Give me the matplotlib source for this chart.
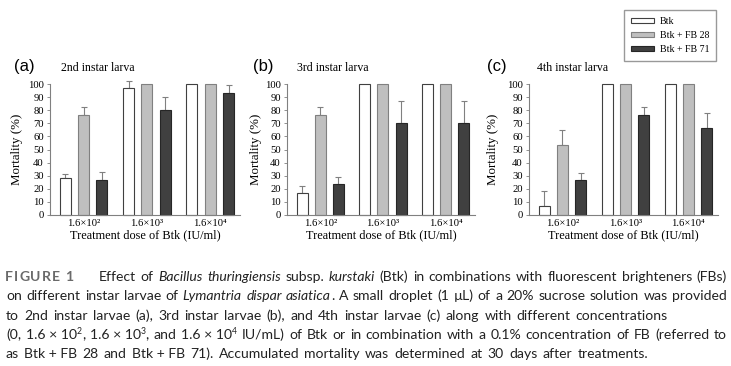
import matplotlib
matplotlib.use("Agg")
import matplotlib.pyplot as plt
import matplotlib.patches as mpatches
import numpy as np

# ---- data ----
doses = ["1.6×10²", "1.6×10³", "1.6×10⁴"]
series = ["Btk", "Btk + FB 28", "Btk + FB 71"]
panels = ["(a)", "(b)", "(c)"]
stages = ["2nd instar larva", "3rd instar larva", "4th instar larva"]

# mortality (%) per panel, rows = series, cols = dose
mort_a = [[28.3, 96.7, 100], [76.7, 100, 100], [26.7, 80.0, 93.3]]
err_a = [[3.0, 5.7, 0], [5.5, 0, 0], [5.8, 10.0, 5.7]]
mort_b = [[16.7, 100, 100], [76.7, 100, 100], [23.3, 70.0, 70.0]]
err_b = [[5.5, 0, 0], [5.5, 0, 0], [5.5, 17.3, 17.3]]
mort_c = [[6.7, 100, 100], [53.3, 100, 100], [26.7, 76.7, 66.7]]
err_c = [[11.5, 0, 0], [11.5, 0, 0], [5.5, 5.8, 11.5]]

W, H = 731, 366
fig = plt.figure(figsize=(W / 100, H / 100), dpi=100)
serif = ["Liberation Serif", "DejaVu Serif"]

face = ["white", "#bfbfbf", "#404040"]
edge = ["#404040", "#808080", "#262626"]

# axes boxes in pixels: left, right
boxes = [(50, 240), (287, 475), (529, 718)]
top_px, bot_px = 84, 215
ylab_x = [17, 256, 493]
plabel_x = [14, 253, 487]
stage_x = [61, 297, 537]

data = [(mort_a, err_a), (mort_b, err_b), (mort_c, err_c)]
x = np.arange(len(doses))
off = 0.29
bw = 0.175

for k, (mort, err) in enumerate(data):
    l, r = boxes[k]
    ax = fig.add_axes([l / W, 1 - bot_px / H, (r - l) / W, (bot_px - top_px) / H])
    for i in range(3):
        xs = x + (i - 1) * off
        ax.bar(xs, mort[i], width=bw, color=face[i], edgecolor=edge[i],
               linewidth=0.8, clip_on=False, zorder=2)
        e = np.array(err[i])
        m = e > 0
        ax.errorbar(xs[m], np.array(mort[i])[m], yerr=[np.zeros(m.sum()), e[m]],
                    fmt="none", ecolor="#808080", elinewidth=0.8, capsize=2.5,
                    capthick=0.8, clip_on=False, zorder=1)
    ax.set_xlim(-0.53, 2.47)
    ax.set_ylim(0, 100)
    ax.set_yticks(range(0, 101, 10))
    ax.set_xticks(x)
    ax.set_xticklabels(doses, family=serif, fontsize=7.7)
    for t in ax.get_yticklabels():
        t.set_family(serif)
        t.set_fontsize(7.7)
    ax.tick_params(axis="y", length=2.5, width=0.6, color="#808080", pad=2)
    ax.tick_params(axis="x", length=0, pad=3)
    for s in ["top", "right"]:
        ax.spines[s].set_visible(False)
    for s in ["left", "bottom"]:
        ax.spines[s].set_color("#808080")
        ax.spines[s].set_linewidth(0.8)
    ax.set_xlabel("Treatment dose of Btk (IU/ml)", family=serif, fontsize=8.8, labelpad=1)
    fig.text(ylab_x[k] / W, 1 - (top_px + bot_px) / 2 / H, "Mortality (%)",
             rotation=90, ha="center", va="center", family=serif, fontsize=9.3)
    fig.text(plabel_x[k] / W, 1 - 67 / H, panels[k], family="Liberation Sans",
             fontsize=12, va="center", ha="left")
    fig.text(stage_x[k] / W, 1 - 68 / H, stages[k], family=serif, fontsize=8.6,
             va="center", ha="left")

handles = [mpatches.Patch(facecolor=face[i], edgecolor=edge[i], linewidth=0.8)
           for i in range(3)]
fig.legend(handles, series, loc="upper left", bbox_to_anchor=(624 / W, 1 - 10 / H),
           prop={"family": serif, "size": 7.1}, frameon=True, fancybox=False,
           edgecolor="#808080", handlelength=2.3, handleheight=0.45,
           handletextpad=0.6, borderpad=0.7, labelspacing=0.5, borderaxespad=0)

# ---- caption ----
cap_size = 10.1
N = "n"; I = "i"; S = "s"
lines = [
    [("Effect of ", N), ("Bacillus thuringiensis", I), (" subsp. ", N), ("kurstaki", I),
     (" (Btk) in combinations with fluorescent brighteners (FBs)", N)],
    [("on different instar larvae of ", N), ("Lymantria dispar asiatica", I),
     (". A small droplet (1 µL) of a 20% sucrose solution was provided", N)],
    [("to 2nd instar larvae (a), 3rd instar larvae (b), and 4th instar larvae (c) "
      "along with different concentrations", N)],
    [("(0, 1.6\u00a0×\u00a010", N), ("2", S), (", 1.6\u00a0×\u00a010", N), ("3", S),
     (", and 1.6\u00a0×\u00a010", N), ("4", S),
     (" IU/mL) of Btk or in combination with a 0.1% concentration of FB (referred to", N)],
    [("as Btk\u00a0+\u00a0FB 28 and Btk\u00a0+\u00a0FB 71). Accumulated mortality was "
      "determined at 30 days after treatments.", N)],
]
starts = [99, 6, 6, 6, 6]
ends = [727, 727, 668, 727, 648]
baselines = [281, 300, 319.5, 339, 358]

renderer = fig.canvas.get_renderer()


def put(xp, yp, txt, style):
    kw = dict(family=["Lato", "DejaVu Sans"], fontsize=cap_size, va="baseline",
              ha="left", color="#222222")
    if style == I:
        kw["style"] = "italic"
    if style == S:
        kw["fontsize"] = cap_size * 0.62
        yp -= cap_size * 0.45
    return fig.text(xp / W, 1 - yp / H, txt, **kw)


def width_of(t):
    return t.get_window_extent(renderer).width


sp = put(0, -100, "a a", N)
sp2 = put(0, -100, "aa", N)
space = width_of(sp) - width_of(sp2)
sp.remove(); sp2.remove()

for li, runs in enumerate(lines):
    words = [[]]
    for txt, st in runs:
        parts = txt.split(" ")
        for j, p in enumerate(parts):
            if j > 0:
                words.append([])
            if p:
                words[-1].append((p, st))
    words = [w for w in words if w]
    widths = []
    for w in words:
        tot = 0
        for p, st in w:
            t = put(0, -100, p, st)
            tot += width_of(t)
            t.remove()
        widths.append(tot)
    x0 = starts[li]
    gap = max((ends[li] - x0 - sum(widths)) / (len(words) - 1), space * 0.7)
    xp = x0
    for w, wd in zip(words, widths):
        xx = xp
        for p, st in w:
            t = put(xx, baselines[li], p, st)
            xx += width_of(t)
        xp += wd + gap

# "FIGURE 1" label with letter spacing
xp = 5
for ch in "FIGURE 1":
    if ch == " ":
        xp += 4
        continue
    t = fig.text(xp / W, 1 - baselines[0] / H, ch, family="Lato", weight="bold",
                 fontsize=cap_size, color="#6a6a6a", va="baseline", ha="left")
    xp += width_of(t) + 1.0

fig.savefig("out.png", dpi=100)
